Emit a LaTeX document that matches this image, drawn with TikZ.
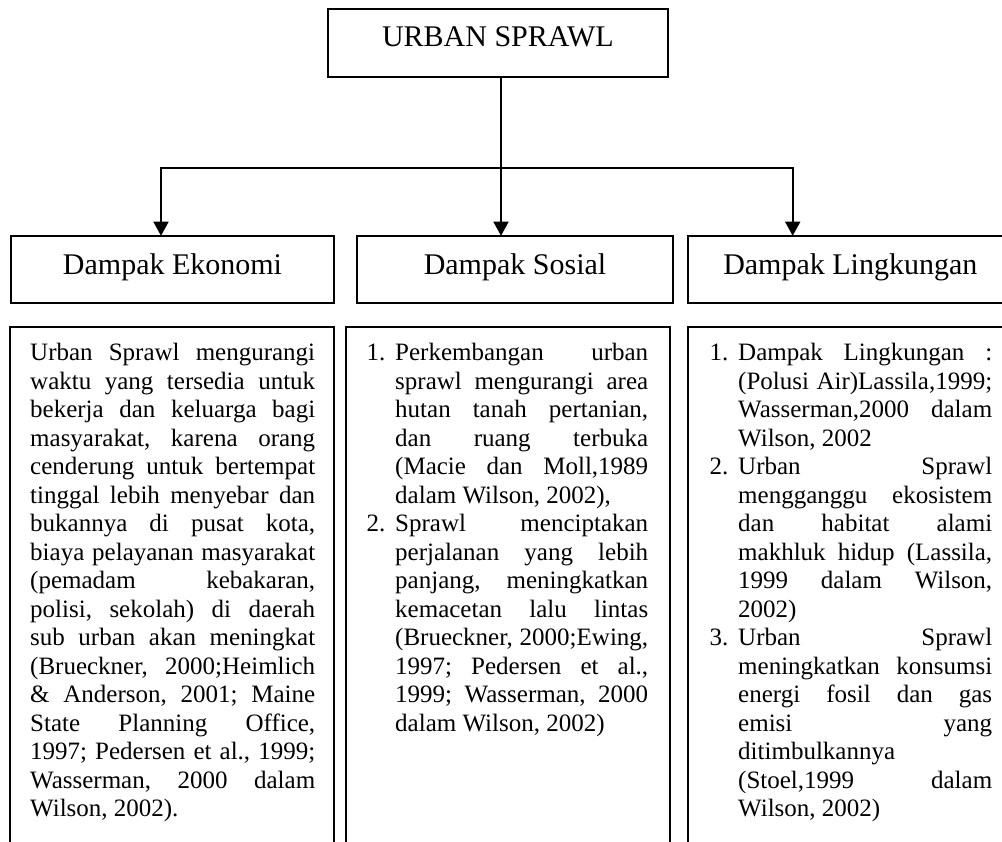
\documentclass[tikz,border=0pt]{standalone}
\usepackage{fontspec}
\setmainfont{Liberation Serif}
\usetikzlibrary{arrows.meta}
\newcommand\JL[1]{\hbox to \hsize{#1}}
\newcommand\LL[1]{\hbox to \hsize{#1\hfil}}
\newcommand\NUM[1]{\llap{\makebox[28.5pt][l]{#1}}}
\begin{document}
\begin{tikzpicture}[x=1pt,y=-1pt,
  box/.style={draw, line width=1.7pt, rectangle, inner sep=0pt, outer sep=0pt},
  openbox/.style={rectangle, inner sep=0pt, outer sep=0pt},
  edge3/.style={line width=1.7pt, line join=miter},
  head/.style={box, font=\fontsize{30}{36}\selectfont, minimum height=67.3pt, text height=20pt, text depth=8.8pt},
  headopen/.style={openbox, font=\fontsize{30}{36}\selectfont, minimum height=67.3pt, text height=20pt, text depth=8.8pt},
  body/.style={inner sep=0pt, anchor=base west, font=\fontsize{25}{28.5}\selectfont\frenchspacing},
  conn/.style={line width=1.6pt},
  arr/.style={conn, -{Triangle[length=14pt,width=15pt]}}]
\useasboundingbox (0,0) rectangle (1002,842);

\node[box, font=\fontsize{30}{36}\selectfont, minimum width=339.7pt, minimum height=68pt, text height=20pt, text depth=12.6pt] (top) at (497.9,43) {URBAN SPRAWL};

\node[head, minimum width=323.6pt] (eko) at (172.5,269.4) {Dampak Ekonomi};
\node[head, minimum width=316.6pt] (sos) at (515,269.4) {Dampak Sosial};
\node[headopen, minimum width=324pt] (lin) at (850.3,269.4) {Dampak Lingkungan};
\draw[edge3] (lin.north east) -- (lin.north west) -- (lin.south west) -- (lin.south east);

\coordinate (jm) at (501,168);
\coordinate (jl) at (161,168);
\coordinate (jr) at (792.7,168);
\draw[arr] (top.south -| jm) -- (sos.north -| jm);
\draw[arr] (jm) -| (eko.north -| jl);
\draw[arr] (jm) -| (lin.north -| jr);

\node[box, anchor=north west, minimum width=324.3pt, minimum height=560pt] (b1) at (10,326.7) {};
\node[box, anchor=north west, minimum width=324.3pt, minimum height=560pt] (b2) at (345.7,326.7) {};
\node[openbox, anchor=north west, minimum width=324.3pt, minimum height=560pt] (b3) at (688.3,326.7) {};
\draw[edge3] (b3.north east) -- (b3.north west) -- (b3.south west);

\node[body] (t1) at (30,360.7) {\vtop{\hsize=285pt
\JL{Urban Sprawl mengurangi}
\JL{waktu yang tersedia untuk}
\JL{bekerja dan keluarga bagi}
\JL{masyarakat, karena orang}
\JL{cenderung untuk bertempat}
\JL{tinggal lebih menyebar dan}
\JL{bukannya di pusat kota,}
\JL{biaya pelayanan masyarakat}
\JL{(pemadam kebakaran,}
\JL{polisi, sekolah) di daerah}
\JL{sub urban akan meningkat}
\JL{(Brueckner, 2000;Heimlich}
\JL{\& Anderson, 2001; Maine}
\JL{State Planning Office,}
\JL{1997; Pedersen et al., 1999;}
\JL{Wasserman, 2000 dalam}
\LL{Wilson, 2002).}}};

\node[body] (t2) at (395,360.7) {\vtop{\hsize=253pt
\JL{\NUM{1.}Perkembangan urban}
\JL{sprawl mengurangi area}
\JL{hutan tanah pertanian,}
\JL{dan ruang terbuka}
\JL{(Macie dan Moll,1989}
\LL{dalam Wilson, 2002),}
\JL{\NUM{2.}Sprawl menciptakan}
\JL{perjalanan yang lebih}
\JL{panjang, meningkatkan}
\JL{kemacetan lalu lintas}
\JL{(Brueckner, 2000;Ewing,}
\JL{1997; Pedersen et al.,}
\JL{1999; Wasserman, 2000}
\LL{dalam Wilson, 2002)}}};

\node[body] (t3) at (738,360.7) {\vtop{\hsize=254pt
\JL{\NUM{1.}Dampak Lingkungan :}
\JL{(Polusi Air)Lassila,1999;}
\JL{Wasserman,2000 dalam}
\LL{Wilson, 2002}
\JL{\NUM{2.}Urban Sprawl}
\JL{mengganggu ekosistem}
\JL{dan habitat alami}
\JL{makhluk hidup (Lassila,}
\JL{1999 dalam Wilson,}
\LL{2002)}
\JL{\NUM{3.}Urban Sprawl}
\JL{meningkatkan konsumsi}
\JL{energi fosil dan gas}
\JL{emisi yang}
\LL{ditimbulkannya}
\JL{(Stoel,1999 dalam}
\LL{Wilson, 2002)}}};
\end{tikzpicture}
\end{document}
